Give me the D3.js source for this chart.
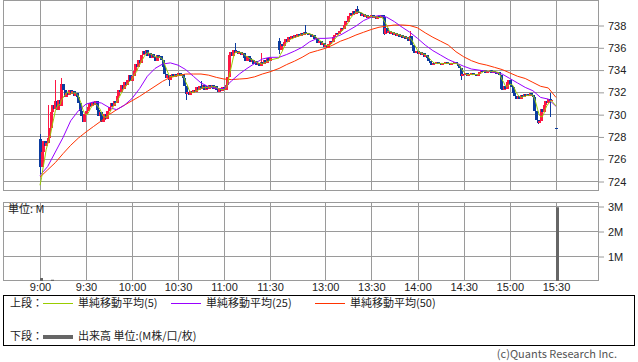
<!DOCTYPE html>
<html>
<head>
<meta charset="utf-8">
<script src="https://cdn.jsdelivr.net/npm/d3@7"></script>
<style>
  body { margin: 0; background: #fff; }
  svg { display: block; font-family: "Noto Sans CJK JP", "Noto Sans", sans-serif; }
</style>
</head>
<body>
<svg id="chart" width="638" height="362"></svg>
<script>
// closes per minute, 9:00 .. 11:30
const amClose = [
  725.3, 726.6, 727.6, 727.1, 727.4, 727.9, 728.8, 730.2, 730.8, 730.5,
  731.2, 730.4, 731.3, 730.7, 732.7, 732.2, 731.5, 731.9, 731.7, 732.2,
  731.8, 732.1, 731.6, 731.9, 731.5, 731.0, 730.3, 729.8, 729.3, 730.0,
  730.3, 730.6, 731.0, 730.7, 731.1, 730.8, 731.2, 730.4, 729.8, 730.2,
  729.3, 729.5, 730.0, 729.6, 730.3, 730.6, 731.0, 730.7, 731.2, 731.0,
  731.6, 732.2, 732.0, 732.6, 732.3, 732.9, 732.6, 733.1, 733.5, 733.0,
  733.4, 733.9, 734.5, 734.2, 734.9, 734.6, 735.3, 735.7, 735.4, 735.8,
  735.2, 735.5, 735.0, 735.4, 735.1, 734.8, 735.3, 735.0, 735.2, 734.9,
  734.2, 733.6, 733.2, 733.5, 733.1, 733.4, 733.6, 733.3, 733.6, 733.4,
  733.7, 733.4, 733.6, 733.2, 732.5, 731.8, 732.0, 731.7, 732.1, 731.9,
  732.2, 732.0, 732.4, 732.2, 732.5, 732.3, 732.6, 732.2, 732.5, 732.3,
  732.6, 732.4, 732.6, 732.3, 732.5, 732.2, 732.0, 732.3, 732.1, 732.4,
  732.2, 732.6, 733.3, 735.3, 735.6, 735.2, 735.8, 735.5, 735.7, 735.4,
  735.6, 735.3, 735.5, 735.0, 734.8, 735.2, 735.0, 734.7, 734.9, 734.5,
  734.8, 734.4, 734.6, 734.3, 734.7, 734.5, 734.9, 734.6, 735.0, 734.8,
  735.0
];
// closes per minute, 12:30 .. 15:30 (no trades 15:28-15:29)
const pmClose = [
  735.8, 736.3, 736.1, 736.5, 736.7, 736.5, 736.9, 736.7, 737.0, 736.8,
  737.1, 736.9, 737.2, 737.0, 737.3, 737.1, 737.4, 737.2, 737.3, 737.1,
  737.2, 736.9, 737.1, 736.7, 736.8, 736.4, 736.6, 736.2, 736.4, 736.0,
  736.2, 735.9, 736.3, 736.6, 736.5, 736.9, 737.1, 737.3, 737.2, 737.5,
  737.7, 737.6, 738.0, 738.4, 738.3, 738.8, 739.1, 738.9, 739.3, 739.0,
  739.4, 739.2, 739.1, 738.8, 739.0, 738.7, 738.9, 738.6, 738.8, 738.7,
  738.9, 738.6, 738.8, 738.5, 738.8, 738.6, 738.9, 738.7, 737.2, 737.7,
  737.3, 737.5, 737.2, 737.4, 737.1, 737.3, 737.0, 737.2, 736.9, 737.1,
  736.8, 737.0, 736.7, 736.9, 736.6, 737.0, 736.2, 735.7, 735.5, 735.7,
  735.4, 735.6, 735.3, 735.5, 735.1, 735.3, 735.0, 734.8, 734.6, 734.4,
  734.6, 734.5, 734.7, 734.5, 734.6, 734.4, 734.6, 734.5, 734.7, 734.5,
  734.6, 734.4, 734.6, 734.5, 734.7, 734.5, 734.3, 734.1, 733.4, 733.6,
  733.5, 733.7, 733.4, 733.6, 733.5, 733.7, 733.5, 733.6, 733.4, 733.6,
  733.8, 734.0, 733.8, 734.0, 733.7, 733.9, 733.8, 734.0, 733.7, 733.9,
  733.8, 733.6, 733.8, 733.5, 732.3, 732.2, 732.5, 732.3, 732.9, 733.1,
  732.6, 732.4, 731.9, 731.6, 731.4, 731.6, 731.4, 731.7, 731.5, 731.8,
  731.6, 731.8, 731.6, 731.9, 731.7, 731.5, 730.3, 729.5, 729.2, 729.4,
  730.5, 730.2, 730.8, 731.2, 731.0, 731.4, 731.2, 731.3, null, null,
  728.8
];
const prevClose = 723.2;
// [time, open, high, low] where the candle differs from prev-close open / body-only range
const candleFixes = [
  ["9:00", 727.8, 728.2, 724.6],
  ["9:05", null, 730.8, null],
  ["9:10", null, 733.1, null],
  ["9:14", null, 733.2, null],
  ["10:24", null, null, 732.5],
  ["10:35", null, null, 731.3],
  ["10:45", null, 733.0, null],
  ["11:07", null, 736.4, null],
  ["11:24", null, 735.5, null],
  ["12:30", 736.6, 736.8, 735.4],
  ["12:47", null, 738.0, null],
  ["13:21", null, 739.7, null],
  ["13:38", null, 738.9, 737.1],
  ["13:55", null, 737.5, 736.2],
  ["14:28", null, null, 733.1],
  ["15:18", null, null, 729.1],
  ["15:26", null, 731.9, 729.7],
  ["15:30", 728.8, null, null]
];
// moving averages read every 5 minutes
const ma25am = [724.5, 725.3, 726.6, 727.9, 729.4, 730.3, 730.9, 731.1, 731.0, 730.6,
  730.4, 730.8, 731.4, 732.3, 733.4, 734.1, 734.5, 734.6, 734.4, 734.0,
  733.4, 732.8, 732.45, 732.3, 732.3, 733.0, 733.6, 734.1, 734.55, 734.95, 735.1];
const ma25pm = [735.1, 735.35, 735.65, 736.0, 736.5, 736.8, 736.8, 736.85, 737.1, 737.5,
  737.9, 738.4, 738.7, 738.85, 738.7, 738.3, 737.8, 737.35, 736.8, 736.2,
  735.7, 735.3, 734.9, 734.6, 734.3, 734.05, 733.95, 733.85, 733.75, 733.6,
  733.2, 732.8, 732.4, 732.1, 731.5, 731.35, 730.7];
const ma50am = [724.35, 725.0, 725.65, 726.45, 727.2, 727.85, 728.4, 728.9, 729.4, 729.95,
  730.4, 730.8, 731.2, 731.6, 732.05, 732.5, 732.95, 733.3, 733.45, 733.6,
  733.6, 733.6, 733.5, 733.3, 733.15, 733.1, 733.15, 733.2, 733.35, 733.6, 733.8];
const ma50pm = [734.1, 734.45, 734.75, 735.1, 735.5, 735.7, 735.9, 736.2, 736.55, 736.8,
  737.1, 737.35, 737.6, 737.8, 737.9, 738.0, 738.0, 737.95, 737.75, 737.3,
  736.9, 736.55, 736.2, 735.6, 735.15, 734.8, 734.55, 734.4, 734.2, 734.0,
  733.7, 733.4, 733.2, 732.85, 732.5, 732.35, 731.5];
const volTimes = ["9:00", "9:07", "15:30"];
const volValues = [0.12, 0.05, 2.95];
const priceTicks = [724, 726, 728, 730, 732, 734, 736, 738];
const volTicks = [1, 2, 3];
const timeLabels = ["9:00", "9:30", "10:00", "10:30", "11:00", "11:30", "13:00", "13:30", "14:00", "14:30", "15:00", "15:30"];
const legendNames = ["単純移動平均(5)", "単純移動平均(25)", "単純移動平均(50)"];
const legendColors = ["#99cc00", "#9900ff", "#ff3300"];

const toMin = s => { const [h, m] = s.split(":").map(Number); return h * 60 + m; };

const svg = d3.select("#chart");
const left = 3, right = 599;
const top1 = 0, bot1 = 190, top2 = 202, bot2 = 280;

// morning 9:00-11:30, afternoon 12:30-15:30 with a small break between
const x = d3.scaleLinear().domain([540, 690, 750, 930]).range([40, 270, 279, 556]);
const y = d3.scaleLinear().domain([724, 738]).range([181, 25]);
const yv = d3.scaleLinear().domain([0, 3]).range([281, 206]);

const gridColor = "#9a9a9a";

// candles
const candles = [];
amClose.forEach((c, i) => candles.push({ t: 540 + i, c }));
pmClose.forEach((c, i) => { if (c != null) candles.push({ t: 750 + i, c }); });
const fixMap = new Map(candleFixes.map(f => [toMin(f[0]), f]));
candles.forEach((d, i) => {
  d.o = i === 0 ? prevClose : candles[i - 1].c;
  const f = fixMap.get(d.t);
  if (f && f[1] != null) d.o = f[1];
  d.h = Math.max(d.o, d.c);
  d.l = Math.min(d.o, d.c);
  if (f && f[2] != null) d.h = Math.max(d.h, f[2]);
  if (f && f[3] != null) d.l = Math.min(d.l, f[3]);
});

// MA5 from closes, seeded with previous day's close
const closes = candles.map(d => d.c);
const ma5 = candles.map((d, i) => {
  let s = 0;
  for (let k = i - 4; k <= i; k++) s += k >= 0 ? closes[k] : prevClose;
  return { t: d.t, v: s / 5 };
});
const maSeries = (am, pm) => am.map((v, i) => ({ t: 540 + i * 5, v }))
  .concat(pm.map((v, i) => ({ t: 750 + i * 5, v })));

// ---- grids
const gridTimes = timeLabels.map(toMin);
svg.append("g").selectAll("line").data(priceTicks).join("line")
  .attr("x1", left).attr("x2", right)
  .attr("y1", d => Math.round(y(d)) + 0.5).attr("y2", d => Math.round(y(d)) + 0.5)
  .attr("stroke", gridColor);
[[top1, bot1], [top2, bot2]].forEach(([a, b]) => {
  svg.append("g").selectAll("line").data(gridTimes).join("line")
    .attr("x1", d => Math.round(x(d)) + 0.5).attr("x2", d => Math.round(x(d)) + 0.5)
    .attr("y1", a).attr("y2", b)
    .attr("stroke", gridColor);
});
svg.append("g").selectAll("line").data(volTicks).join("line")
  .attr("x1", left).attr("x2", right)
  .attr("y1", d => Math.round(yv(d)) + 0.5).attr("y2", d => Math.round(yv(d)) + 0.5)
  .attr("stroke", gridColor);

// frames
svg.append("rect").attr("x", left + 0.5).attr("y", top1 + 0.5)
  .attr("width", right - left - 1).attr("height", bot1 - top1)
  .attr("fill", "none").attr("stroke", gridColor);
svg.append("rect").attr("x", left + 0.5).attr("y", top2 + 0.5)
  .attr("width", right - left - 1).attr("height", bot2 - top2)
  .attr("fill", "none").attr("stroke", gridColor);

svg.append("clipPath").attr("id", "clip1").append("rect")
  .attr("x", left + 1).attr("y", top1 + 1).attr("width", right - left - 2).attr("height", bot1 - top1 - 1);

const plot = svg.append("g").attr("clip-path", "url(#clip1)");
const upCol = "#ff1744", downCol = "#0b3c9f";
const cg = plot.append("g").attr("shape-rendering", "crispEdges");
cg.selectAll("line").data(candles).join("line")
  .attr("x1", d => Math.round(x(d.t)) + 0.5).attr("x2", d => Math.round(x(d.t)) + 0.5)
  .attr("y1", d => y(d.h)).attr("y2", d => y(d.l))
  .attr("stroke", d => d.c > d.o ? upCol : downCol);
cg.selectAll("rect").data(candles).join("rect")
  .attr("x", d => Math.round(x(d.t)) - 1)
  .attr("width", 2.5)
  .attr("y", d => y(Math.max(d.o, d.c)))
  .attr("height", d => Math.max(1, y(Math.min(d.o, d.c)) - y(Math.max(d.o, d.c))))
  .attr("fill", d => d.c > d.o ? upCol : downCol);

const line = d3.line().x(d => x(d.t)).y(d => y(d.v));
[[maSeries(ma50am, ma50pm), legendColors[2]],
 [maSeries(ma25am, ma25pm), legendColors[1]],
 [ma5, legendColors[0]]].forEach(([data, col]) => {
  plot.append("path").datum(data).attr("d", line)
    .attr("fill", "none").attr("stroke", col).attr("stroke-width", 1);
});

// volume bars
svg.append("g").selectAll("rect").data(volTimes).join("rect")
  .attr("x", d => Math.round(x(toMin(d))))
  .attr("width", 3)
  .attr("y", (d, i) => yv(volValues[i]))
  .attr("height", (d, i) => yv(0) - yv(volValues[i]))
  .attr("fill", "#666");

// axes
const axisStyle = g => {
  g.select(".domain").remove();
  g.selectAll(".tick line").attr("stroke", gridColor);
  g.selectAll(".tick text").attr("fill", "#222").style("font-size", "11px");
};
svg.append("g").attr("transform", `translate(${right},0.5)`)
  .call(d3.axisRight(y).tickValues(priceTicks).tickSize(5).tickPadding(4))
  .call(axisStyle);
svg.append("g").attr("transform", `translate(${right},0.5)`)
  .call(d3.axisRight(yv).tickValues(volTicks).tickSize(5).tickPadding(4).tickFormat(d => d + "M"))
  .call(axisStyle);
svg.append("g").attr("transform", `translate(0,${bot2})`)
  .call(d3.axisBottom(x).tickValues(gridTimes).tickSize(0).tickPadding(3)
    .tickFormat((d, i) => timeLabels[i]))
  .call(axisStyle);

svg.append("text").attr("x", 8).attr("y", 209).attr("dy", "0.35em")
  .style("font-size", "11px").attr("fill", "#222").text("単位: M");

// legend
svg.append("rect").attr("x", 3.5).attr("y", 295.5).attr("width", 631).attr("height", 50)
  .attr("fill", "none").attr("stroke", "#000");
const lg = svg.append("g").style("font-size", "11px").attr("fill", "#222");
lg.append("text").attr("x", 10).attr("y", 303).attr("dy", "0.35em").text("上段：");
lg.append("text").attr("x", 10).attr("y", 336).attr("dy", "0.35em").text("下段：");
const legX = [43, 171, 315];
legendNames.forEach((name, i) => {
  lg.append("line").attr("x1", legX[i]).attr("x2", legX[i] + 30)
    .attr("y1", 303.5).attr("y2", 303.5).attr("stroke", legendColors[i]);
  lg.append("text").attr("x", legX[i] + 35).attr("y", 303).attr("dy", "0.35em").text(name);
});
lg.append("line").attr("x1", 43).attr("x2", 73).attr("y1", 337).attr("y2", 337)
  .attr("stroke", "#666").attr("stroke-width", 4);
lg.append("text").attr("x", 78).attr("y", 336).attr("dy", "0.35em").text("出来高 単位:(M株/口/枚)");

svg.append("text").attr("x", 617).attr("y", 354).attr("dy", "0.35em")
  .attr("text-anchor", "end").style("font-size", "11px").attr("fill", "#555")
  .text("(c)Quants Research Inc.");
</script>
</body>
</html>
